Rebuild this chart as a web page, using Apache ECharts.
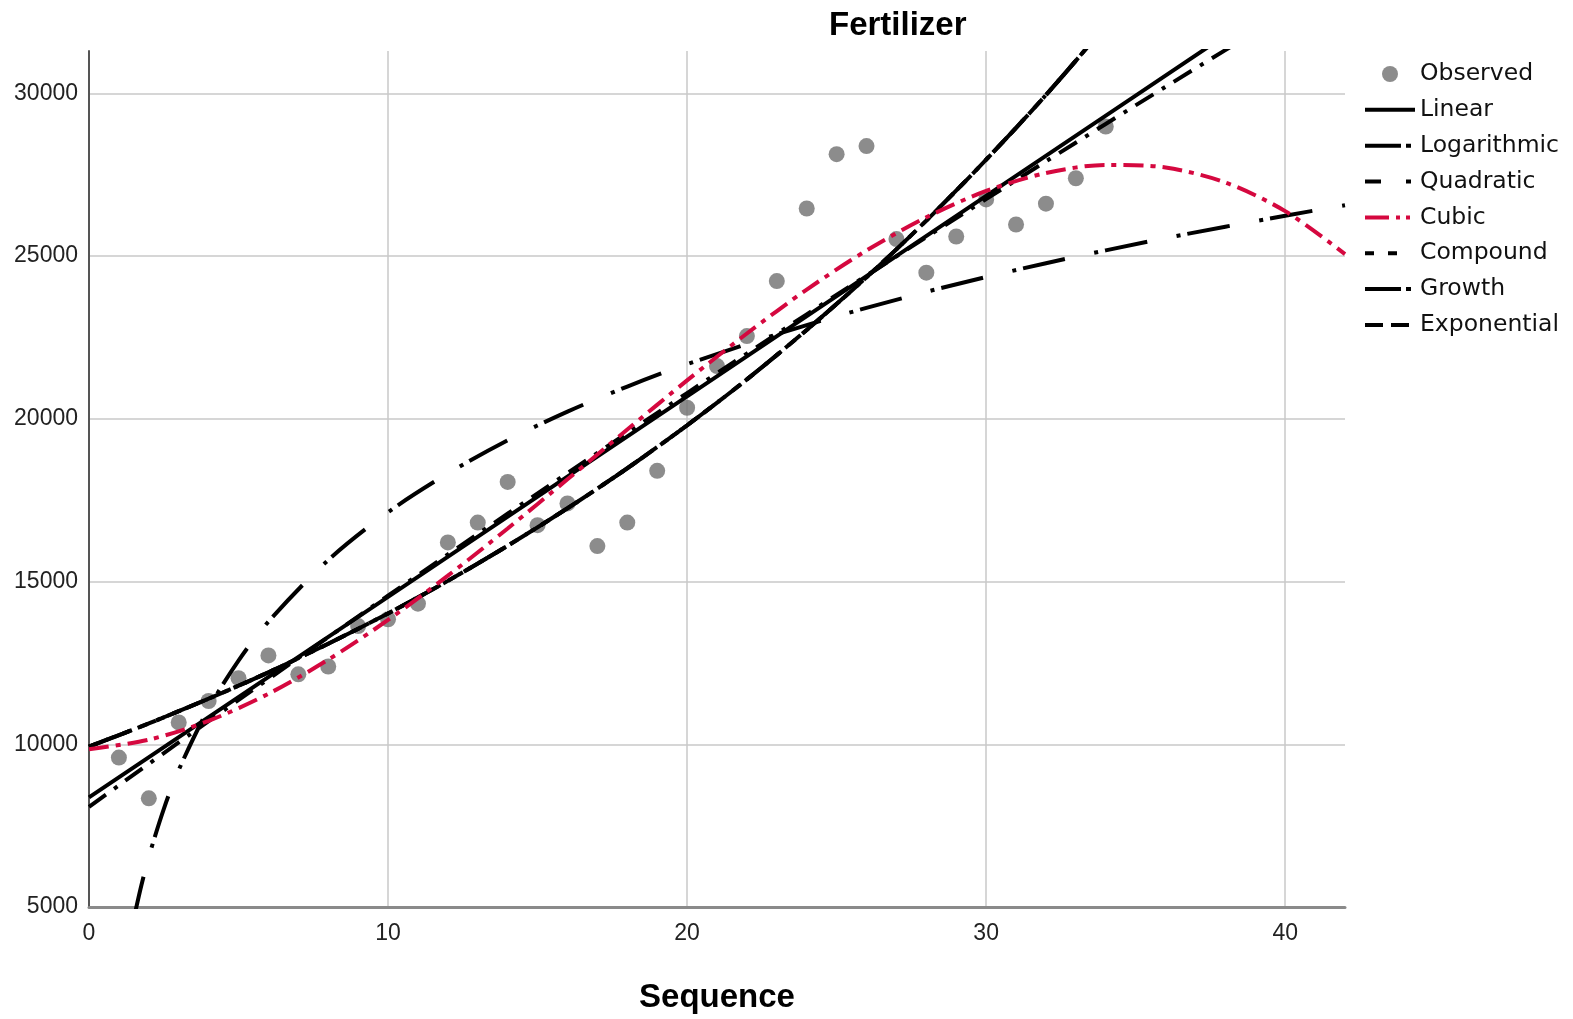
<!DOCTYPE html>
<html>
<head>
<meta charset="utf-8">
<title>Fertilizer</title>
<script src="https://cdn.jsdelivr.net/npm/echarts@6/dist/echarts.min.js"></script>
<style>
  html, body { margin: 0; padding: 0; background: #fff; }
  #chart { width: 1573px; height: 1019px; }
</style>
</head>
<body>
<div id="chart"></div>
<script>
// Observed fertilizer values by sequence number
const observedX = [1, 2, 3, 4, 5, 6, 7, 8, 9, 10, 11, 12, 13, 14, 15, 16, 17,
  18, 19, 20, 21, 22, 23, 24, 25, 26, 27, 28, 29, 30, 31, 32, 33, 34];
const observedY = [9590, 8340, 10670, 11330, 12030, 12730, 12150, 12390, 13630, 13840,
  14320, 16200, 16810, 18060, 16730, 17400, 16090, 16810, 18400, 20340,
  21620, 22540, 24230, 26460, 28130, 28380, 25520, 24490, 25600, 26740,
  25970, 26610, 27390, 28980];

// Fitted curves, sampled along the sequence axis
const linearX = [0, 10, 20, 30, 40, 42];
const linearY = [8370, 14530, 20690, 26850, 33010, 34240];

const logX = [1.5, 1.75, 2, 2.5, 3, 4, 5, 6, 8, 10, 12, 14, 16, 18, 20, 24, 28, 32, 36, 40, 42];
const logY = [4650, 5660, 6540, 8010, 9210, 11100, 12570, 13770, 15660, 17130, 18320,
  19340, 20220, 20990, 21680, 22880, 23900, 24780, 25550, 26240, 26560];

const quadX = [0, 4, 8, 12, 16, 20, 24, 28, 32, 36, 40, 42];
const quadY = [8080, 10710, 13290, 15830, 18330, 20790, 23210, 25580, 27910, 30200, 32450, 33560];

const cubicX = [0, 2, 4, 6, 8, 10, 12, 14, 16, 18, 20, 22, 24, 26, 28, 30, 32, 34, 36, 38, 40, 42];
const cubicY = [9850, 10140, 10720, 11550, 12600, 13820, 15180, 16630, 18140, 19670, 21180,
  22620, 23970, 25170, 26190, 27000, 27550, 27800, 27720, 27260, 26380, 25060];

// Compound, growth and exponential models give the same curve
const expX = [0, 2, 4, 6, 8, 10, 12, 14, 16, 18, 20, 22, 24, 26, 28, 30, 32, 34, 36];
const expY = [9930, 10640, 11400, 12210, 13090, 14020, 15020, 16100, 17250, 18480, 19800,
  21210, 22730, 24350, 26090, 27960, 29950, 32090, 34380];

const xTicks = [0, 10, 20, 30, 40];
const yTicks = [5000, 10000, 15000, 20000, 25000, 30000];

const pairs = (xs, ys) => xs.map((x, i) => [x, ys[i]]);

const BLACK = '#000000';
const RED = '#d5083f';
const GREY = '#6f6f6f';
const LW = 4;
const FONT = '"Liberation Sans", Arial, sans-serif';
const LEGEND_FONT = '"DejaVu Sans", "Liberation Sans", sans-serif';

function curve(name, xs, ys, color, dash, extra) {
  return Object.assign({
    name: name,
    type: 'line',
    data: pairs(xs, ys),
    smooth: 0.3,
    symbol: 'none',
    showSymbol: false,
    clip: true,
    silent: true,
    z: 3,
    lineStyle: { color: color, width: LW, type: dash, cap: 'butt' },
    itemStyle: { color: color }
  }, extra || {});
}

// legend entry for a fitted curve: line sample only, no marker
function lineKey(name, dash) {
  return { name: name, itemStyle: { opacity: 0 }, lineStyle: { type: dash, width: LW } };
}

const chart = echarts.init(document.getElementById('chart'), null, { renderer: 'canvas' });

chart.setOption({
  animation: false,
  backgroundColor: '#ffffff',
  title: {
    text: 'Fertilizer',
    left: 824,
    top: 4,
    textStyle: { fontFamily: FONT, fontSize: 33, fontWeight: 'bold', color: '#000' }
  },
  grid: { left: 89, right: 228, top: 51, bottom: 110, containLabel: false },
  legend: {
    orient: 'vertical',
    left: 1358,
    top: 57,
    itemWidth: 50,
    itemHeight: 16,
    itemGap: 11.85,
    itemTextGap: 10,
    selectedMode: false,
    textStyle: { fontFamily: LEGEND_FONT, fontSize: 23.5, color: '#111', lineHeight: 24 },
    data: [
      { name: 'Observed', icon: 'circle', itemStyle: { color: GREY } },
      lineKey('Linear', 'solid'),
      lineKey('Logarithmic', [36, 5, 5, 4]),
      lineKey('Quadratic', [16, 25, 5, 4]),
      lineKey('Cubic', [24, 7, 4, 6, 4, 5]),
      lineKey('Compound', [9, 14, 9, 18]),
      lineKey('Growth', [36, 5, 5, 4]),
      lineKey('Exponential', [18, 8, 18, 6])
    ]
  },
  xAxis: {
    type: 'value',
    min: 0,
    max: 42,
    interval: 10,
    name: 'Sequence',
    nameLocation: 'middle',
    nameGap: 74,
    nameTextStyle: { fontFamily: FONT, fontSize: 33, fontWeight: 'bold', color: '#000' },
    axisLine: { show: true, lineStyle: { color: '#8a8a8a', width: 3 } },
    axisTick: { show: false },
    axisLabel: {
      fontFamily: FONT, fontSize: 23, color: '#222', margin: 15,
      showMaxLabel: false,
      formatter: v => (xTicks.indexOf(v) >= 0 ? String(v) : '')
    },
    splitLine: { show: true, showMaxLine: false, lineStyle: { color: '#c9c9c9', width: 1.5 } }
  },
  yAxis: {
    type: 'value',
    min: 5000,
    max: 31300,
    interval: 5000,
    axisLine: { show: true, lineStyle: { color: '#555', width: 2 } },
    axisTick: { show: false },
    axisLabel: {
      fontFamily: FONT, fontSize: 23, color: '#222', margin: 11,
      showMaxLabel: false,
      formatter: v => (yTicks.indexOf(v) >= 0 ? String(v) : '')
    },
    splitLine: { show: true, showMaxLine: false, showMinLine: false, lineStyle: { color: '#c9c9c9', width: 1.5 } }
  },
  series: [
    {
      name: 'Observed',
      type: 'scatter',
      data: pairs(observedX, observedY),
      symbol: 'circle',
      symbolSize: 16,
      itemStyle: { color: GREY },
      silent: true,
      z: 2
    },
    curve('Linear', linearX, linearY, BLACK, 'solid'),
    curve('Logarithmic', logX, logY, BLACK, [43, 30, 4, 7]),
    curve('Quadratic', quadX, quadY, BLACK, [21, 10, 4, 10]),
    curve('Cubic', cubicX, cubicY, RED, [20, 7, 5, 7], { z: 4 }),
    curve('Compound', expX, expY, BLACK, [9, 9]),
    curve('Growth', expX, expY, BLACK, [43, 30, 4, 7]),
    curve('Exponential', expX, expY, BLACK, [20, 6])
  ]
});
</script>
</body>
</html>
